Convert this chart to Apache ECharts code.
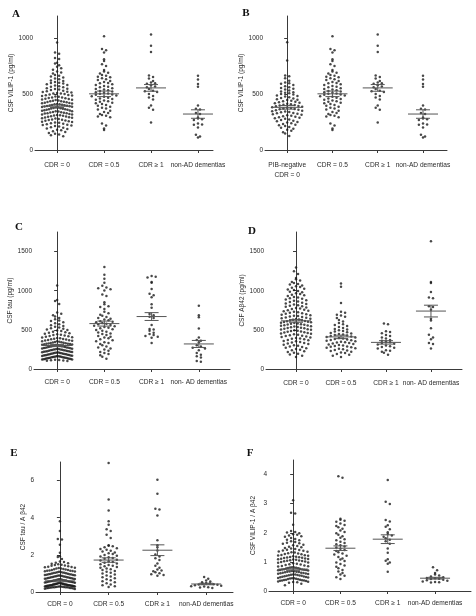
<!DOCTYPE html>
<html><head><meta charset="utf-8">
<script src="https://cdn.jsdelivr.net/npm/echarts@6/dist/echarts.min.js"></script>
<style>html,body{margin:0;padding:0;background:#fff}#c{width:476px;height:616px}</style>
</head><body><div id="c"></div><script>
// ---------- categories ----------
const catsStd = ['CDR = 0', 'CDR = 0.5', 'CDR \u2265 1', 'non-AD dementias'];
const catsB   = ['PIB-negative\nCDR = 0', 'CDR = 0.5', 'CDR \u2265 1', 'non-AD dementias'];
const catsCD  = ['CDR = 0', 'CDR = 0.5', 'CDR \u2265 1', 'non- AD dementias'];

// ---------- tick labels ----------
const ticksA = [0, 500, 1000];
const ticksC = [0, 500, 1000, 1500];
const ticksE = [0, 2, 4, 6];
const ticksF = [0, 1, 2, 3, 4];

// ---------- CSF VILIP-1 (pg/ml) ----------
const vilipCdr0 = [962,874,861,823,815,781,774,760,745,731,718,702,695,684,671,666,658,650,641,633,622,617,609,603,601,596,588,583,577,570,566,561,553,548,546,541,537,530,527,522,519,516,511,507,505,502,498,493,490,488,484,480,477,471,470,466,463,459,457,452,450,447,444,440,437,436,433,429,427,424,421,419,416,413,410,409,406,403,401,398,397,394,392,390,387,384,381,380,377,374,372,369,366,364,361,360,357,354,351,348,346,344,341,338,336,333,330,329,326,322,319,317,314,311,308,306,302,300,297,293,290,288,285,281,278,274,271,268,264,261,257,254,250,247,243,239,236,231,227,224,219,214,210,204,199,193,187,181,176,168,161,153,146,138,131,124];
const vilipPibNeg = [966,801,668,661,642,621,604,598,593,582,571,563,556,548,541,533,525,518,512,508,501,497,489,484,478,472,466,462,455,451,447,441,436,432,427,423,419,414,410,406,402,398,395,391,387,383,379,376,372,368,364,360,357,352,348,344,340,337,332,328,324,320,316,311,307,302,298,293,289,284,279,274,268,262,257,251,246,240,233,227,221,214,207,199,190,181,172,160,148,126];
const vilipCdr05 = [1018,905,893,874,812,798,768,752,716,703,692,684,671,664,657,651,642,633,626,618,609,601,597,588,581,574,566,561,553,547,541,536,529,523,518,512,507,503,498,494,487,481,476,469,462,457,450,443,437,431,424,418,411,403,396,388,379,371,362,352,341,331,322,313,306,301,293,237,219,192,178];
const vilipCdr1 = [1035,934,878,668,653,641,618,604,598,593,579,568,561,546,531,526,519,502,483,471,452,398,379,361,247];
const vilipNonAD = [664,632,591,566,399,369,363,331,323,292,281,276,268,238,229,226,201,136,121,112];

// ---------- CSF tau (pg/ml) ----------
const tauCdr0 = [1068,882,868,831,722,705,688,671,652,634,621,612,598,584,571,560,549,540,531,522,514,506,498,491,484,477,470,463,457,451,445,439,433,427,422,417,412,407,402,397,392,388,384,380,376,372,368,364,360,356,353,349,346,342,339,336,333,330,327,324,321,318,315,312,309,306,303,300,297,295,292,289,286,284,281,278,276,273,270,268,265,263,260,258,255,253,250,248,245,243,240,238,236,233,231,228,226,224,221,219,217,214,212,210,207,205,203,200,198,196,194,191,189,187,185,182,180,178,176,174,171,169,167,165,163,161,159,157,155,153,151,149,147,145,143,141,139,137,135,133,131,129,127,125,122,120,118,115,112,109,106,103];
const tauCdr05 = [1302,1204,1152,1103,1062,1041,1032,1018,1003,952,931,852,826,803,791,768,731,712,694,681,664,652,641,633,622,611,603,596,588,579,571,563,552,546,538,527,519,508,497,488,476,467,455,446,434,421,412,401,392,381,368,356,343,331,318,302,289,274,261,248,233,218,204,191,176,158,131];
const tauCdr1 = [1189,1178,1168,1112,1101,1022,962,941,918,828,781,703,688,668,651,562,512,503,487,462,448,433,421,412,398,331];
const tauNonAD = [808,688,661,518,402,372,361,341,302,288,272,263,241,203,182,162,148,101,92];

// ---------- CSF Abeta42 (pg/ml) ----------
const abCdr0 = [1296,1248,1212,1163,1148,1131,1112,1098,1087,1079,1068,1057,1049,1038,1026,1017,1008,996,987,979,968,958,949,941,932,921,913,904,896,887,879,871,862,855,846,838,831,823,815,808,801,794,786,779,772,765,758,751,744,737,731,724,718,711,705,699,693,687,681,676,670,665,659,654,648,643,638,633,628,623,618,614,609,605,600,596,591,587,582,578,573,569,564,560,555,551,546,542,537,533,528,523,519,514,509,505,500,495,490,485,480,475,470,465,459,454,449,443,438,432,426,421,415,409,403,397,391,385,379,372,366,359,353,346,339,332,325,318,311,303,296,288,280,272,264,256,247,238,228,218,207,196,184,170,152];
const abCdr05 = [1092,1051,843,732,718,693,682,668,652,627,608,587,571,562,548,537,524,512,503,494,486,478,469,461,454,447,440,433,427,421,414,408,402,396,390,384,378,372,366,361,355,349,343,337,331,325,319,313,307,301,295,289,283,277,271,264,258,251,244,237,229,221,212,203,193,181,168,154];
const abCdr1 = [582,571,483,472,458,433,421,402,391,372,361,352,343,332,321,312,301,291,282,271,262,241,232,221,208,182];
const abNonAD = [1632,1112,1098,982,912,903,801,792,758,642,621,521,438,402,381,332,318,262];

// ---------- CSF tau / Abeta42 ----------
const tauAbCdr0 = [3.81,3.28,2.86,2.83,2.54,2.12,1.92,1.88,1.78,1.64,1.62,1.58,1.55,1.52,1.49,1.47,1.45,1.43,1.41,1.38,1.36,1.34,1.33,1.31,1.29,1.27,1.26,1.24,1.22,1.21,1.19,1.18,1.16,1.15,1.14,1.13,1.12,1.11,1.09,1.08,1.07,1.05,1.04,1.03,1.02,1.01,0.99,0.98,0.97,0.96,0.95,0.94,0.93,0.92,0.91,0.90,0.89,0.88,0.87,0.86,0.85,0.84,0.83,0.82,0.81,0.80,0.79,0.78,0.77,0.76,0.75,0.74,0.73,0.72,0.71,0.70,0.69,0.68,0.67,0.66,0.65,0.63,0.62,0.62,0.61,0.60,0.59,0.58,0.58,0.57,0.56,0.55,0.55,0.54,0.53,0.52,0.51,0.50,0.49,0.48,0.48,0.47,0.46,0.45,0.45,0.44,0.43,0.42,0.42,0.41,0.41,0.40,0.40,0.39,0.38,0.38,0.37,0.37,0.36,0.36,0.35,0.35,0.34,0.34,0.33,0.33,0.32,0.32,0.31,0.31,0.30,0.30,0.29,0.29,0.28,0.28,0.27,0.27,0.26,0.26,0.25,0.25,0.24,0.24,0.23,0.22,0.22,0.21,0.20,0.19,0.18,0.16];
const tauAbCdr05 = [6.95,4.98,4.39,3.81,3.62,3.38,3.29,3.08,2.91,2.52,2.49,2.46,2.41,2.36,2.31,2.27,2.22,2.18,2.13,2.08,2.04,1.99,1.95,1.91,1.87,1.83,1.79,1.74,1.70,1.66,1.62,1.58,1.54,1.50,1.46,1.42,1.38,1.34,1.30,1.26,1.22,1.18,1.13,1.09,1.04,0.99,0.94,0.89,0.84,0.79,0.74,0.69,0.63,0.58,0.52,0.47,0.41,0.36,0.31,0.27];
const tauAbCdr1 = [6.04,5.29,4.48,4.44,4.12,2.78,2.52,2.41,2.23,2.02,1.91,1.82,1.72,1.53,1.42,1.31,1.21,1.16,1.12,1.06,1.01,0.96,0.91,0.88];
const tauAbNonAD = [0.81,0.71,0.62,0.56,0.52,0.49,0.46,0.44,0.42,0.40,0.39,0.36,0.34,0.31,0.29,0.26,0.24,0.21];

// ---------- CSF VILIP-1 / Abeta42 ----------
const vilAbCdr0 = [3.12,2.69,2.66,2.28,2.06,2.03,2.01,1.98,1.95,1.93,1.91,1.88,1.86,1.82,1.79,1.76,1.74,1.71,1.68,1.66,1.64,1.62,1.59,1.57,1.55,1.52,1.50,1.48,1.46,1.44,1.42,1.41,1.39,1.38,1.36,1.35,1.33,1.32,1.30,1.29,1.27,1.26,1.24,1.23,1.22,1.21,1.19,1.18,1.17,1.16,1.15,1.14,1.13,1.12,1.11,1.10,1.09,1.08,1.07,1.06,1.05,1.04,1.03,1.02,1.01,1.00,0.98,0.97,0.95,0.94,0.92,0.91,0.89,0.88,0.86,0.85,0.84,0.82,0.81,0.81,0.80,0.79,0.78,0.77,0.76,0.75,0.74,0.74,0.73,0.72,0.72,0.71,0.70,0.69,0.68,0.67,0.66,0.66,0.65,0.64,0.63,0.63,0.62,0.61,0.60,0.59,0.58,0.57,0.57,0.56,0.55,0.54,0.53,0.52,0.52,0.51,0.50,0.49,0.48,0.47,0.46,0.45,0.44,0.44,0.43,0.42,0.41,0.40,0.39,0.39,0.38,0.37,0.36,0.36,0.35,0.34,0.33,0.32,0.31,0.30,0.28,0.25,0.20];
const vilAbCdr05 = [3.94,3.89,2.48,2.45,2.41,2.38,2.32,2.27,2.23,2.19,2.14,2.08,2.03,1.98,1.93,1.88,1.83,1.78,1.74,1.69,1.65,1.61,1.57,1.53,1.49,1.45,1.41,1.37,1.33,1.29,1.25,1.21,1.17,1.12,1.08,1.03,0.98,0.93,0.88,0.83,0.78,0.72,0.67,0.62,0.57,0.52,0.47,0.41];
const vilAbCdr1 = [3.81,3.07,2.99,2.44,2.39,2.26,2.21,2.12,2.02,1.96,1.91,1.86,1.81,1.76,1.71,1.62,1.46,1.31,1.09,1.04,0.98,0.94,0.66];
const vilAbNonAD = [0.82,0.71,0.62,0.57,0.53,0.50,0.47,0.45,0.44,0.42,0.41,0.39,0.37,0.35,0.33,0.31,0.30,0.29];

// ---------- group means and SEM as drawn ----------
const meansA = [392, 503, 556, 322], semsA = [12, 25, 30, 38];
const meansB = [382, 503, 556, 322], semsB = [16, 25, 30, 38];
const meansC = [300, 580, 670, 320], semsC = [14, 32, 50, 45];
const meansD = [615, 410, 340, 740], semsD = [18, 22, 22, 75];
const meansE = [0.60, 1.72, 2.25, 0.43], semsE = [0.05, 0.12, 0.29, 0.04];
const meansF = [0.75, 1.47, 1.78, 0.44], semsF = [0.04, 0.08, 0.15, 0.03];

// ---------- panel layout ----------
const panels = [
  {letter:'A', lx:16, ly:14, grid:{left:35,top:16,width:178,height:134}, ymax:1200, ticks:ticksA, xmin:-0.47, xmax:3.32,
   yname:'CSF VILIP-1 (pg/ml)', nameGap:20, labMargin:10, cats:catsStd,
   groups:[vilipCdr0, vilipCdr05, vilipCdr1, vilipNonAD], means:meansA, sems:semsA},
  {letter:'B', lx:246, ly:13, grid:{left:265,top:16,width:182,height:134}, ymax:1200, ticks:ticksA, xmin:-0.49, xmax:3.53,
   yname:'CSF VILIP-1 (pg/ml)', nameGap:20, labMargin:10, cats:catsB,
   groups:[vilipPibNeg, vilipCdr05, vilipCdr1, vilipNonAD], means:meansB, sems:semsB},
  {letter:'C', lx:19, ly:227, grid:{left:34,top:232,width:196,height:137}, ymax:1750, ticks:ticksC, xmin:-0.49, xmax:3.66,
   yname:'CSF tau (pg/ml)', nameGap:19, labMargin:8, cats:catsCD,
   groups:[tauCdr0, tauCdr05, tauCdr1, tauNonAD], means:meansC, sems:semsC},
  {letter:'D', lx:252, ly:231, grid:{left:266,top:232,width:196,height:137}, ymax:1750, ticks:ticksC, xmin:-0.667, xmax:3.69,
   yname:'CSF A\u03b242 (pg/ml)', nameGap:18, labMargin:9, cats:catsCD,
   groups:[abCdr0, abCdr05, abCdr1, abNonAD], means:meansD, sems:semsD},
  {letter:'E', lx:14, ly:453, grid:{left:36,top:462,width:197,height:130}, ymax:7, ticks:ticksE, xmin:-0.49, xmax:3.55,
   yname:'CSF tau / A \u03b242', nameGap:9, labMargin:7, cats:catsStd,
   groups:[tauAbCdr0, tauAbCdr05, tauAbCdr1, tauAbNonAD], means:meansE, sems:semsE},
  {letter:'F', lx:250, ly:453, grid:{left:269,top:460,width:202,height:131}, ymax:4.5, ticks:ticksF, xmin:-0.51, xmax:3.76,
   yname:'CSF VILIP-1 / A \u03b242', nameGap:12, labMargin:7, cats:catsStd,
   groups:[vilAbCdr0, vilAbCdr05, vilAbCdr1, vilAbNonAD], means:meansF, sems:semsF}
];

// beeswarm layout (Prism-like column scatter)
function swarm(vals, cat, pxY, pxX) {
  const rowH = 3.7, dx = 4.1, maxHalf = 15;
  const bins = {};
  vals.forEach(v => { const b = Math.round(v * pxY / rowH); (bins[b] = bins[b] || []).push(v); });
  const out = [];
  Object.keys(bins).forEach(k => {
    const arr = bins[k].slice().sort((a, b) => b - a);
    const n = arr.length;
    const sp = n > 1 ? Math.min(dx, 2 * maxHalf / (n - 1)) : 0;
    arr.forEach((v, i) => {
      let slot = i === 0 ? 0 : (i % 2 ? (i + 1) / 2 : -i / 2);
      if (n % 2 === 0) slot -= 0.5;
      out.push([cat + slot * sp / pxX, v]);
    });
  });
  return out;
}

const FONT = 'Liberation Sans';
const AX = '#3a3a3a', TXT = '#2a2a2a';
const grids = [], xAxes = [], yAxes = [], series = [], graphics = [];
panels.forEach((p, gi) => {
  grids.push(p.grid);
  xAxes.push({
    type:'value', gridIndex:gi, min:p.xmin, max:p.xmax,
    axisLine:{show:true, lineStyle:{color:AX, width:1}},
    axisTick:{show:true, length:3, customValues:[0,1,2,3], lineStyle:{color:AX}},
    axisLabel:{show:true, customValues:[0,1,2,3], margin:p.labMargin, fontSize:6.6, lineHeight:10,
      fontFamily:FONT, color:TXT, formatter: v => p.cats[Math.round(v)] || ''},
    splitLine:{show:false}
  });
  yAxes.push({
    type:'value', gridIndex:gi, min:0, max:p.ymax,
    name:p.yname, nameLocation:'middle', nameGap:p.nameGap,
    nameTextStyle:{fontSize:6.5, fontFamily:FONT, color:TXT},
    axisLine:{show:true, lineStyle:{color:AX, width:1}},
    axisTick:{show:true, length:3, customValues:p.ticks, lineStyle:{color:AX}},
    axisLabel:{show:true, customValues:p.ticks, margin:2, fontSize:6.5, fontFamily:FONT, color:TXT,
      formatter: v => String(v)},
    splitLine:{show:false}
  });
  const pxY = p.grid.height / p.ymax;
  const pxX = p.grid.width / (p.xmax - p.xmin);
  let pts = [];
  p.groups.forEach((g, ci) => { pts = pts.concat(swarm(g, ci, pxY, pxX)); });
  series.push({
    type:'scatter', xAxisIndex:gi, yAxisIndex:gi, data:pts, symbol:'circle', symbolSize:2.5,
    itemStyle:{color:'#1a1a1a'}, silent:true, animation:false, z:2
  });
  series.push({
    type:'custom', xAxisIndex:gi, yAxisIndex:gi, animation:false, silent:true, z:3,
    data:p.means.map((m, i) => [i, m, p.sems[i]]),
    renderItem(params, api) {
      const x = api.value(0), m = api.value(1), s = api.value(2);
      const c = api.coord([x, m]), t = api.coord([x, m + s]), b = api.coord([x, m - s]);
      const hw = 15, cw = 7;
      const st = {stroke:'#555', lineWidth:1};
      return {type:'group', children:[
        {type:'line', shape:{x1:c[0]-hw, y1:c[1], x2:c[0]+hw, y2:c[1]}, style:st},
        {type:'line', shape:{x1:c[0], y1:t[1], x2:c[0], y2:b[1]}, style:st},
        {type:'line', shape:{x1:c[0]-cw, y1:t[1], x2:c[0]+cw, y2:t[1]}, style:st},
        {type:'line', shape:{x1:c[0]-cw, y1:b[1], x2:c[0]+cw, y2:b[1]}, style:st}
      ]};
    }
  });
  graphics.push({type:'text', x:p.lx, y:p.ly, style:{text:p.letter, fill:'#111',
    font:'bold 11px "Liberation Serif", "DejaVu Serif", serif', textAlign:'center', textVerticalAlign:'middle'}});
});

const chart = echarts.init(document.getElementById('c'), null, {renderer:'canvas'});
chart.setOption({
  backgroundColor:'#fff', animation:false,
  grid:grids, xAxis:xAxes, yAxis:yAxes, series:series, graphic:graphics
});
</script></body></html>
